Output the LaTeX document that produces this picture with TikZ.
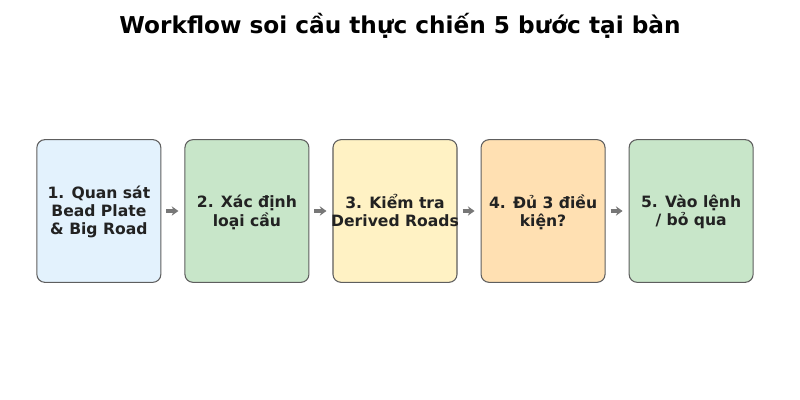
\documentclass[tikz,border=0pt]{standalone}
\usepackage{fontspec}
\setmainfont{DejaVu Sans}
\usetikzlibrary{matrix,arrows.meta}
\definecolor{boxblue}{HTML}{E3F2FD}
\definecolor{boxgreen}{HTML}{C8E6C9}
\definecolor{boxyellow}{HTML}{FFF2C4}
\definecolor{boxorange}{HTML}{FFE0B2}
\definecolor{boxedge}{HTML}{5E5E5E}
\definecolor{arrowgray}{HTML}{777777}
\definecolor{textdark}{HTML}{222222}
\newcommand{\steplines}[1]{\raisebox{-1.5pt}[\height][\depth]{\makebox[0pt]{\begin{tabular}{@{}c@{}}#1\end{tabular}}}}
\tikzset{
  stepbox/.style={draw=boxedge, line width=0.8pt, rounded corners=6pt,
    minimum width=93pt, minimum height=107pt, inner sep=0pt,
    text=textdark, font=\bfseries\fontsize{11.7}{13.2}\selectfont},
  flowarrow/.style={draw=arrowgray, line width=2.4pt,
    -{Stealth[length=5pt,width=7pt]},
    shorten <=3.75pt, shorten >=4.5pt}
}

\begin{document}
\begin{tikzpicture}[x=0.75pt,y=0.75pt]
    \useasboundingbox (0,0) rectangle (800,400);
    \node[font=\bfseries\fontsize{17.4}{20}\selectfont] (title) at (400,374)
      {Workflow soi cầu thực chiến 5 bước tại bàn};
    \matrix (steps) at (395,189) [%
      matrix of nodes,
      nodes={stepbox},
      column sep=17.25pt
    ]
    {%
      |[fill=boxblue]| \steplines{1. Quan sát\\Bead Plate\\\& Big Road} &
      |[fill=boxgreen]| \steplines{2. Xác định\\loại cầu} &
      |[fill=boxyellow]| \steplines{3. Kiểm tra\\Derived Roads} &
      |[fill=boxorange]| \steplines{4. Đủ 3 điều\\kiện?} &
      |[fill=boxgreen]| \steplines{5. Vào lệnh\\/ bỏ qua}\\
    };
    \foreach \a/\b in {1/2,2/3,3/4,4/5}
      \draw[flowarrow] (steps-1-\a) -- (steps-1-\b);
  \end{tikzpicture}
\end{document}
